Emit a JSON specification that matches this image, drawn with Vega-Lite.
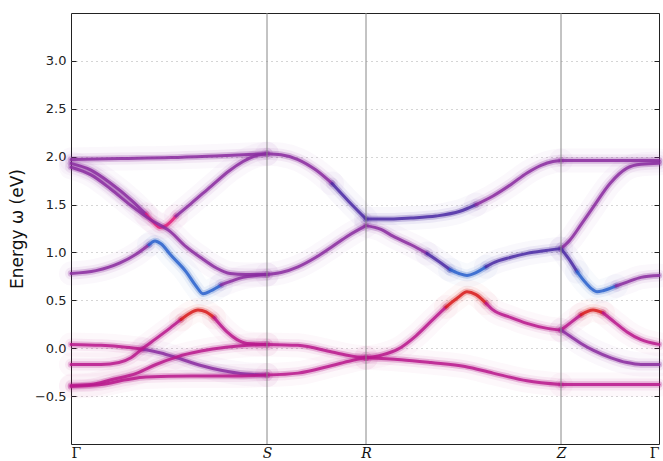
{
"$schema": "https://vega.github.io/schema/vega-lite/v6.json",
"width": 588, "height": 431,
"autosize": "none",
"padding": {"left": 71, "top": 13, "right": 4, "bottom": 17},
"background": "white",
"view": {"stroke": "#222", "strokeWidth": 1},
"config": {"axis": {"labelFont": "DejaVu Sans", "titleFont": "DejaVu Sans", "labelColor": "#222", "titleColor": "#111"}},
"datasets": {
"kp": [{"k": 196}, {"k": 295}, {"k": 490}],
"bands": [
{"b":"t1","x":0,"e":1.97,"k":"purple"},{"b":"t1","x":50,"e":1.98,"k":"purple"},{"b":"t1","x":100,"e":1.99,"k":"purple"},{"b":"t1","x":150,"e":2.01,"k":"purple"},{"b":"t1","x":196,"e":2.03,"k":"purple"},
{"b":"t2a","x":0,"e":1.93,"k":"purple"},{"b":"t2a","x":20,"e":1.86,"k":"purple"},{"b":"t2a","x":40,"e":1.72,"k":"purple"},{"b":"t2a","x":60,"e":1.55,"k":"purple"},{"b":"t2a","x":75,"e":1.40,"k":"purple"},
{"b":"t2b","x":75,"e":1.40,"k":"pink"},{"b":"t2b","x":83,"e":1.31,"k":"pink"},{"b":"t2b","x":89,"e":1.26,"k":"pink"},{"b":"t2b","x":95,"e":1.28,"k":"pink"},{"b":"t2b","x":105,"e":1.38,"k":"pink"},
{"b":"t2c","x":105,"e":1.38,"k":"purple"},{"b":"t2c","x":120,"e":1.51,"k":"purple"},{"b":"t2c","x":140,"e":1.69,"k":"purple"},{"b":"t2c","x":158,"e":1.85,"k":"purple"},{"b":"t2c","x":172,"e":1.95,"k":"purple"},{"b":"t2c","x":185,"e":2.01,"k":"purple"},{"b":"t2c","x":196,"e":2.03,"k":"purple"},
{"b":"t3","x":0,"e":1.89,"k":"purple"},{"b":"t3","x":20,"e":1.81,"k":"purple"},{"b":"t3","x":40,"e":1.66,"k":"purple"},{"b":"t3","x":60,"e":1.49,"k":"purple"},{"b":"t3","x":80,"e":1.34,"k":"purple"},{"b":"t3","x":99,"e":1.22,"k":"purple"},{"b":"t3","x":115,"e":1.06,"k":"purple"},{"b":"t3","x":132,"e":0.93,"k":"purple"},{"b":"t3","x":145,"e":0.84,"k":"purple"},{"b":"t3","x":159,"e":0.78,"k":"purple"},{"b":"t3","x":175,"e":0.77,"k":"purple"},{"b":"t3","x":196,"e":0.77,"k":"purple"},
{"b":"t4a","x":0,"e":0.78,"k":"purple"},{"b":"t4a","x":25,"e":0.81,"k":"purple"},{"b":"t4a","x":49,"e":0.89,"k":"purple"},{"b":"t4a","x":65,"e":0.98,"k":"purple"},{"b":"t4a","x":78,"e":1.08,"k":"purple"},
{"b":"t4b","x":78,"e":1.08,"k":"blue"},{"b":"t4b","x":84,"e":1.12,"k":"blue"},{"b":"t4b","x":90,"e":1.09,"k":"blue"},{"b":"t4b","x":100,"e":0.97,"k":"blue"},{"b":"t4b","x":115,"e":0.80,"k":"blue"},{"b":"t4b","x":125,"e":0.65,"k":"blue"},{"b":"t4b","x":132,"e":0.57,"k":"blue"},{"b":"t4b","x":140,"e":0.60,"k":"blue"},{"b":"t4b","x":150,"e":0.66,"k":"blue"},
{"b":"t4c","x":150,"e":0.66,"k":"purple"},{"b":"t4c","x":160,"e":0.70,"k":"purple"},{"b":"t4c","x":172,"e":0.74,"k":"purple"},{"b":"t4c","x":185,"e":0.76,"k":"purple"},{"b":"t4c","x":196,"e":0.77,"k":"purple"},
{"b":"l1a","x":0,"e":0.04,"k":"magenta"},{"b":"l1a","x":30,"e":0.03,"k":"magenta"},{"b":"l1a","x":55,"e":0.01,"k":"magenta"},{"b":"l1a","x":72,"e":-0.01,"k":"magenta"},
{"b":"l1b","x":72,"e":-0.01,"k":"purple"},{"b":"l1b","x":90,"e":-0.05,"k":"purple"},{"b":"l1b","x":106,"e":-0.10,"k":"purple"},{"b":"l1b","x":130,"e":-0.18,"k":"purple"},{"b":"l1b","x":150,"e":-0.23,"k":"purple"},{"b":"l1b","x":175,"e":-0.27,"k":"purple"},{"b":"l1b","x":196,"e":-0.28,"k":"purple"},
{"b":"l2a","x":0,"e":-0.17,"k":"magenta"},{"b":"l2a","x":30,"e":-0.17,"k":"magenta"},{"b":"l2a","x":48,"e":-0.15,"k":"magenta"},{"b":"l2a","x":60,"e":-0.10,"k":"magenta"},{"b":"l2a","x":72,"e":0.0,"k":"magenta"},{"b":"l2a","x":85,"e":0.10,"k":"magenta"},{"b":"l2a","x":99,"e":0.21,"k":"magenta"},{"b":"l2a","x":110,"e":0.30,"k":"magenta"},
{"b":"l2b","x":110,"e":0.30,"k":"red"},{"b":"l2b","x":118,"e":0.36,"k":"red"},{"b":"l2b","x":127,"e":0.40,"k":"red"},{"b":"l2b","x":135,"e":0.38,"k":"red"},{"b":"l2b","x":143,"e":0.32,"k":"red"},
{"b":"l2c","x":143,"e":0.32,"k":"magenta"},{"b":"l2c","x":156,"e":0.17,"k":"magenta"},{"b":"l2c","x":166,"e":0.09,"k":"magenta"},{"b":"l2c","x":176,"e":0.05,"k":"magenta"},{"b":"l2c","x":196,"e":0.04,"k":"magenta"},
{"b":"l3","x":0,"e":-0.39,"k":"magenta"},{"b":"l3","x":20,"e":-0.38,"k":"magenta"},{"b":"l3","x":40,"e":-0.33,"k":"magenta"},{"b":"l3","x":66,"e":-0.26,"k":"magenta"},{"b":"l3","x":85,"e":-0.17,"k":"magenta"},{"b":"l3","x":106,"e":-0.09,"k":"magenta"},{"b":"l3","x":130,"e":-0.03,"k":"magenta"},{"b":"l3","x":155,"e":0.01,"k":"magenta"},{"b":"l3","x":176,"e":0.03,"k":"magenta"},{"b":"l3","x":196,"e":0.04,"k":"magenta"},
{"b":"l4","x":0,"e":-0.40,"k":"magenta"},{"b":"l4","x":30,"e":-0.38,"k":"magenta"},{"b":"l4","x":55,"e":-0.33,"k":"magenta"},{"b":"l4","x":75,"e":-0.30,"k":"magenta"},{"b":"l4","x":120,"e":-0.29,"k":"magenta"},{"b":"l4","x":160,"e":-0.29,"k":"magenta"},{"b":"l4","x":196,"e":-0.28,"k":"magenta"},
{"b":"sr1a","x":196,"e":2.03,"k":"purple"},{"b":"sr1a","x":210,"e":2.02,"k":"purple"},{"b":"sr1a","x":227,"e":1.97,"k":"purple"},{"b":"sr1a","x":245,"e":1.86,"k":"purple"},{"b":"sr1a","x":261,"e":1.72,"k":"purple"},
{"b":"sr1b","x":261,"e":1.72,"k":"indigo"},{"b":"sr1b","x":278,"e":1.53,"k":"indigo"},{"b":"sr1b","x":295,"e":1.35,"k":"indigo"},
{"b":"sr2","x":196,"e":0.77,"k":"purple"},{"b":"sr2","x":210,"e":0.79,"k":"purple"},{"b":"sr2","x":227,"e":0.85,"k":"purple"},{"b":"sr2","x":245,"e":0.95,"k":"purple"},{"b":"sr2","x":261,"e":1.06,"k":"purple"},{"b":"sr2","x":278,"e":1.18,"k":"purple"},{"b":"sr2","x":295,"e":1.28,"k":"purple"},
{"b":"sr3","x":196,"e":0.04,"k":"magenta"},{"b":"sr3","x":227,"e":0.03,"k":"magenta"},{"b":"sr3","x":261,"e":-0.04,"k":"magenta"},{"b":"sr3","x":280,"e":-0.08,"k":"magenta"},{"b":"sr3","x":295,"e":-0.10,"k":"magenta"},
{"b":"sr4","x":196,"e":-0.28,"k":"magenta"},{"b":"sr4","x":227,"e":-0.26,"k":"magenta"},{"b":"sr4","x":261,"e":-0.18,"k":"magenta"},{"b":"sr4","x":280,"e":-0.13,"k":"magenta"},{"b":"sr4","x":295,"e":-0.10,"k":"magenta"},
{"b":"rz1a","x":295,"e":1.35,"k":"indigo"},{"b":"rz1a","x":320,"e":1.35,"k":"indigo"},{"b":"rz1a","x":340,"e":1.36,"k":"indigo"},{"b":"rz1a","x":365,"e":1.38,"k":"indigo"},{"b":"rz1a","x":389,"e":1.43,"k":"indigo"},{"b":"rz1a","x":405,"e":1.50,"k":"indigo"},
{"b":"rz1b","x":405,"e":1.50,"k":"purple"},{"b":"rz1b","x":422,"e":1.59,"k":"purple"},{"b":"rz1b","x":440,"e":1.71,"k":"purple"},{"b":"rz1b","x":456,"e":1.83,"k":"purple"},{"b":"rz1b","x":470,"e":1.91,"k":"purple"},{"b":"rz1b","x":482,"e":1.95,"k":"purple"},{"b":"rz1b","x":490,"e":1.96,"k":"purple"},
{"b":"rz2a","x":295,"e":1.28,"k":"purple"},{"b":"rz2a","x":310,"e":1.24,"k":"purple"},{"b":"rz2a","x":322,"e":1.17,"k":"purple"},{"b":"rz2a","x":340,"e":1.08,"k":"purple"},{"b":"rz2a","x":356,"e":0.99,"k":"purple"},
{"b":"rz2b","x":356,"e":0.99,"k":"indigo"},{"b":"rz2b","x":370,"e":0.89,"k":"indigo"},{"b":"rz2b","x":379,"e":0.82,"k":"indigo"},
{"b":"rz2c","x":379,"e":0.82,"k":"blue"},{"b":"rz2c","x":388,"e":0.78,"k":"blue"},{"b":"rz2c","x":396,"e":0.76,"k":"blue"},{"b":"rz2c","x":405,"e":0.79,"k":"blue"},{"b":"rz2c","x":415,"e":0.85,"k":"blue"},
{"b":"rz2d","x":415,"e":0.85,"k":"indigo"},{"b":"rz2d","x":422,"e":0.89,"k":"indigo"},{"b":"rz2d","x":440,"e":0.95,"k":"indigo"},{"b":"rz2d","x":456,"e":0.99,"k":"indigo"},{"b":"rz2d","x":475,"e":1.02,"k":"indigo"},{"b":"rz2d","x":490,"e":1.04,"k":"indigo"},
{"b":"rz3a","x":295,"e":-0.10,"k":"magenta"},{"b":"rz3a","x":311,"e":-0.07,"k":"magenta"},{"b":"rz3a","x":327,"e":-0.01,"k":"magenta"},{"b":"rz3a","x":345,"e":0.13,"k":"magenta"},{"b":"rz3a","x":361,"e":0.29,"k":"magenta"},{"b":"rz3a","x":375,"e":0.43,"k":"magenta"},
{"b":"rz3b","x":375,"e":0.43,"k":"red"},{"b":"rz3b","x":387,"e":0.53,"k":"red"},{"b":"rz3b","x":396,"e":0.59,"k":"red"},{"b":"rz3b","x":405,"e":0.56,"k":"red"},{"b":"rz3b","x":415,"e":0.47,"k":"red"},
{"b":"rz3c","x":415,"e":0.47,"k":"magenta"},{"b":"rz3c","x":422,"e":0.40,"k":"magenta"},{"b":"rz3c","x":440,"e":0.32,"k":"magenta"},{"b":"rz3c","x":456,"e":0.26,"k":"magenta"},{"b":"rz3c","x":475,"e":0.21,"k":"magenta"},{"b":"rz3c","x":490,"e":0.19,"k":"magenta"},
{"b":"rz4","x":295,"e":-0.10,"k":"magenta"},{"b":"rz4","x":330,"e":-0.12,"k":"magenta"},{"b":"rz4","x":360,"e":-0.15,"k":"magenta"},{"b":"rz4","x":394,"e":-0.19,"k":"magenta"},{"b":"rz4","x":422,"e":-0.26,"k":"magenta"},{"b":"rz4","x":456,"e":-0.34,"k":"magenta"},{"b":"rz4","x":490,"e":-0.38,"k":"magenta"},
{"b":"zg1","x":490,"e":1.96,"k":"purple"},{"b":"zg1","x":540,"e":1.96,"k":"purple"},{"b":"zg1","x":588,"e":1.96,"k":"purple"},
{"b":"zg2","x":490,"e":1.04,"k":"purple"},{"b":"zg2","x":499,"e":1.13,"k":"purple"},{"b":"zg2","x":510,"e":1.29,"k":"purple"},{"b":"zg2","x":522,"e":1.47,"k":"purple"},{"b":"zg2","x":539,"e":1.72,"k":"purple"},{"b":"zg2","x":556,"e":1.88,"k":"purple"},{"b":"zg2","x":570,"e":1.92,"k":"purple"},{"b":"zg2","x":588,"e":1.93,"k":"purple"},
{"b":"zg3a","x":490,"e":1.04,"k":"indigo"},{"b":"zg3a","x":498,"e":0.93,"k":"indigo"},{"b":"zg3a","x":506,"e":0.80,"k":"indigo"},
{"b":"zg3b","x":506,"e":0.80,"k":"blue"},{"b":"zg3b","x":515,"e":0.68,"k":"blue"},{"b":"zg3b","x":522,"e":0.61,"k":"blue"},{"b":"zg3b","x":526,"e":0.59,"k":"blue"},{"b":"zg3b","x":532,"e":0.60,"k":"blue"},{"b":"zg3b","x":545,"e":0.65,"k":"blue"},
{"b":"zg3c","x":545,"e":0.65,"k":"purple"},{"b":"zg3c","x":556,"e":0.69,"k":"purple"},{"b":"zg3c","x":570,"e":0.74,"k":"purple"},{"b":"zg3c","x":588,"e":0.76,"k":"purple"},
{"b":"zg4a","x":490,"e":0.19,"k":"magenta"},{"b":"zg4a","x":500,"e":0.27,"k":"magenta"},{"b":"zg4a","x":510,"e":0.35,"k":"magenta"},
{"b":"zg4b","x":510,"e":0.35,"k":"red"},{"b":"zg4b","x":522,"e":0.40,"k":"red"},{"b":"zg4b","x":532,"e":0.37,"k":"red"},
{"b":"zg4c","x":532,"e":0.37,"k":"magenta"},{"b":"zg4c","x":545,"e":0.26,"k":"magenta"},{"b":"zg4c","x":556,"e":0.17,"k":"magenta"},{"b":"zg4c","x":570,"e":0.09,"k":"magenta"},{"b":"zg4c","x":588,"e":0.04,"k":"magenta"},
{"b":"zg5","x":490,"e":0.19,"k":"purple"},{"b":"zg5","x":500,"e":0.12,"k":"purple"},{"b":"zg5","x":510,"e":0.05,"k":"purple"},{"b":"zg5","x":522,"e":-0.02,"k":"purple"},{"b":"zg5","x":540,"e":-0.10,"k":"purple"},{"b":"zg5","x":556,"e":-0.15,"k":"purple"},{"b":"zg5","x":570,"e":-0.17,"k":"purple"},{"b":"zg5","x":588,"e":-0.17,"k":"purple"},
{"b":"zg6","x":490,"e":-0.38,"k":"magenta"},{"b":"zg6","x":540,"e":-0.38,"k":"magenta"},{"b":"zg6","x":588,"e":-0.38,"k":"magenta"}
]},
"resolve": {"axis": {"y": "independent"}},
"layer": [
{"data": {"name": "bands"},
 "mark": {"type": "line", "interpolate": "monotone", "strokeWidth": 24, "opacity": 0.03, "strokeCap": "round"},
 "encoding": {
  "x": {"field": "x", "type": "quantitative", "scale": {"domain": [0, 588], "nice": false, "zero": false},
        "axis": {"values": [0, 196, 295, 490, 588], "title": null, "grid": false, "ticks": false, "domain": false,
                 "labelExpr": "datum.value == 0 || datum.value == 588 ? 'Γ' : datum.value == 196 ? 'S' : datum.value == 295 ? 'R' : 'Z'",
                 "labelFont": "DejaVu Serif", "labelFontSize": 14, "labelPadding": 2, "labelColor": "#111", "labelBound": false,
                 "labelFontStyle": {"condition": {"test": "datum.value == 0 || datum.value == 588", "value": "normal"}, "value": "italic"}}},
  "y": {"field": "e", "type": "quantitative", "scale": {"domain": [-1, 3.5], "nice": false, "zero": false},
        "axis": {"values": [-0.5, 0, 0.5, 1, 1.5, 2, 2.5, 3], "format": ".1f", "title": "Energy ω (eV)", "titleFontSize": 17, "titleFontWeight": "normal", "titlePadding": 8,
                 "labelFontSize": 13, "tickSize": -5, "tickColor": "#222", "labelPadding": 10, "domain": false,
                 "grid": true, "gridDash": [1, 4], "gridColor": "#aaa", "gridWidth": 1}},
  "color": {"field": "k", "type": "nominal", "legend": null,
            "scale": {"domain": ["purple", "magenta", "indigo", "blue", "red", "pink"], "range": ["#8a2ca0", "#b8188c", "#4c2ca4", "#2a62cc", "#d81c1c", "#e2207a"]}},
  "detail": {"field": "b"}}},
{"data": {"name": "bands"},
 "mark": {"type": "line", "interpolate": "monotone", "strokeWidth": 12, "opacity": 0.07, "strokeCap": "round"},
 "encoding": {
  "x": {"field": "x", "type": "quantitative"},
  "y": {"field": "e", "type": "quantitative", "axis": null},
  "color": {"field": "k", "type": "nominal", "legend": null},
  "detail": {"field": "b"}}},
{"data": {"name": "bands"},
 "mark": {"type": "line", "interpolate": "monotone", "strokeWidth": 6.5, "opacity": 0.25, "strokeCap": "round"},
 "encoding": {
  "x": {"field": "x", "type": "quantitative"},
  "y": {"field": "e", "type": "quantitative", "axis": null},
  "color": {"field": "k", "type": "nominal", "legend": null},
  "detail": {"field": "b"}}},
{"data": {"name": "bands"},
 "mark": {"type": "line", "interpolate": "monotone", "strokeWidth": 3, "opacity": 0.85, "strokeCap": "round"},
 "encoding": {
  "x": {"field": "x", "type": "quantitative"},
  "y": {"field": "e", "type": "quantitative",
        "axis": {"orient": "right", "values": [-0.5, 0, 0.5, 1, 1.5, 2, 2.5, 3], "labels": false, "title": null, "grid": false, "domain": false, "tickSize": -5, "tickColor": "#222"}},
  "color": {"field": "k", "type": "nominal", "legend": null},
  "detail": {"field": "b"}}},
{"data": {"name": "kp"},
 "mark": {"type": "rule", "color": "#888", "strokeWidth": 1},
 "encoding": {"x": {"field": "k", "type": "quantitative"}}}
]
}
